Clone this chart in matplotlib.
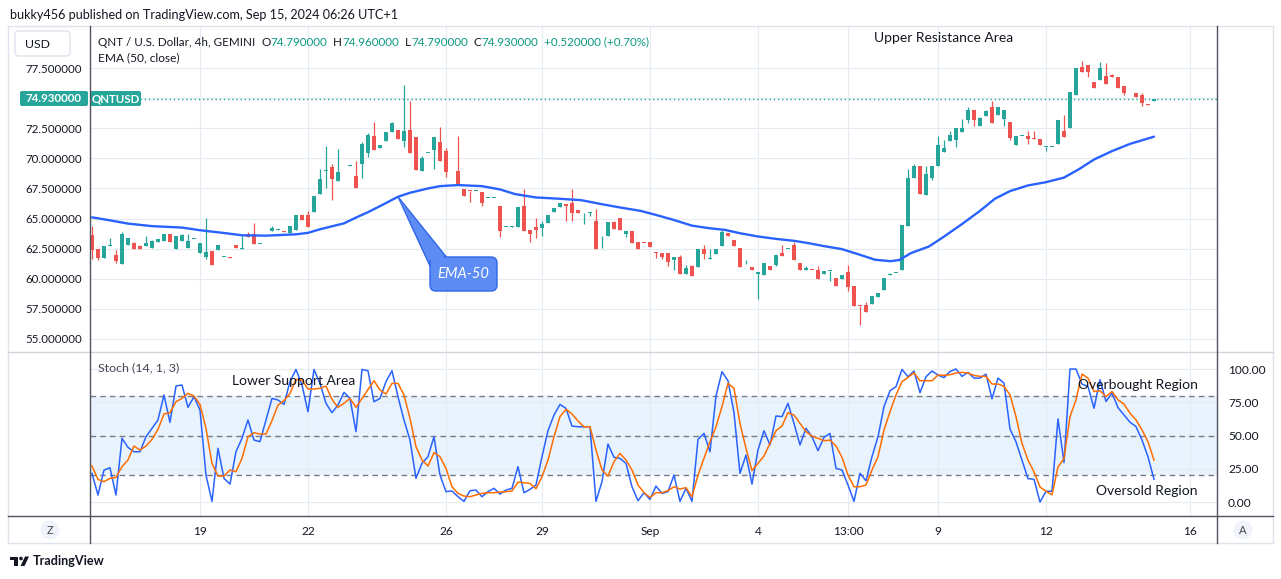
import matplotlib
matplotlib.use("Agg")
import matplotlib.pyplot as plt
from matplotlib.patches import FancyBboxPatch, Polygon, Rectangle, Circle
from matplotlib.lines import Line2D
from matplotlib.transforms import IdentityTransform
import numpy as np

# --- data (QNT/USD 4h candles, Aug 16 - Sep 15 2024) ---
opens = [63.61, 62.44, 61.72, 62.75, 61.97, 61.22, 62.80, 63.00, 62.72, 62.69,
         62.56, 63.03, 63.14, 63.69, 62.47, 63.11, 62.56, 63.30, 62.14, 61.81,
         62.28, 62.36, 61.78, 61.80, 62.78, 62.47, 63.72, 63.69, 62.90, 63.55,
         63.97, 64.08, 64.00, 63.78, 64.03, 65.33, 65.31, 65.56, 67.00, 68.94,
         69.25, 68.14, 69.75, 69.40, 68.53, 69.50, 70.47, 71.86, 70.89, 71.47,
         72.22, 72.36, 71.44, 72.36, 71.75, 68.97, 70.42, 70.69, 71.36, 70.58,
         69.00, 68.94, 67.44, 67.30, 67.28, 67.17, 66.70, 66.70, 66.03, 64.28,
         64.33, 64.31, 66.03, 64.03, 64.28, 64.22, 64.64, 65.58, 65.97, 66.19,
         66.28, 65.69, 65.42, 65.50, 64.78, 63.10, 63.56, 64.69, 65.03, 63.72,
         63.97, 63.06, 62.97, 63.06, 62.21, 62.13, 62.13, 61.52, 61.83, 60.37,
         61.03, 60.94, 62.49, 61.65, 62.07, 62.73, 63.81, 63.23, 62.57, 61.52,
         60.99, 60.37, 60.28, 61.08, 61.16, 62.16, 62.49, 62.82, 61.33, 60.69,
         60.73, 60.72, 60.37, 60.66, 60.09, 59.95, 60.56, 59.43, 57.75, 57.78,
         57.94, 58.52, 59.10, 60.33, 60.47, 60.71, 64.40, 68.40, 69.39, 66.95,
         68.40, 69.34, 70.49, 71.47, 71.53, 72.21, 73.17, 73.99, 72.71, 73.52,
         74.27, 73.58, 73.25, 73.01, 71.12, 71.85, 71.86, 71.60, 71.61, 70.92,
         70.93, 71.20, 72.27, 72.51, 75.28, 77.61, 77.75, 76.38, 76.54, 76.87,
         76.95, 76.76, 75.97, 75.24, 75.39, 75.23, 74.48, 74.79]
highs = [64.36, 62.45, 62.69, 63.36, 62.36, 63.86, 63.36, 63.08, 62.83, 63.53,
         63.25, 63.33, 63.75, 63.69, 63.56, 63.69, 63.69, 63.33, 63.00, 65.06,
         62.28, 62.78, 61.80, 61.80, 62.78, 63.56, 63.89, 64.67, 62.92, 63.58,
         64.36, 64.10, 64.00, 64.36, 65.33, 65.33, 65.61, 66.86, 69.08, 71.03,
         69.53, 70.78, 69.78, 69.42, 69.78, 71.33, 72.08, 73.03, 71.08, 72.19,
         73.03, 72.36, 76.11, 74.78, 71.75, 70.19, 70.45, 71.78, 72.61, 70.89,
         69.02, 71.86, 67.44, 67.30, 67.30, 67.17, 66.72, 66.72, 66.03, 64.30,
         64.36, 65.94, 67.47, 64.03, 65.03, 64.83, 65.33, 65.89, 66.25, 66.19,
         67.44, 65.69, 65.44, 65.52, 65.78, 63.56, 64.69, 64.83, 65.03, 63.94,
         63.97, 63.06, 62.97, 63.06, 62.21, 62.13, 62.13, 61.83, 62.00, 61.11,
         61.16, 62.49, 62.82, 62.49, 62.49, 64.03, 63.81, 63.23, 62.57, 61.54,
         60.99, 60.56, 61.33, 61.08, 61.99, 62.82, 62.50, 63.04, 61.33, 61.08,
         60.73, 61.03, 60.67, 60.68, 60.09, 60.34, 61.16, 59.43, 57.75, 58.05,
         58.60, 58.85, 60.09, 60.45, 60.49, 64.46, 69.14, 69.55, 69.39, 69.39,
         69.39, 71.86, 71.53, 72.27, 72.51, 73.25, 74.27, 73.99, 73.45, 74.02,
         74.79, 74.24, 73.99, 73.01, 71.86, 71.86, 72.27, 72.27, 71.61, 70.94,
         70.94, 73.17, 73.58, 75.47, 77.50, 78.10, 77.75, 76.38, 77.96, 77.94,
         77.03, 76.76, 75.97, 75.24, 75.39, 75.39, 74.48, 74.96]
lows = [61.67, 61.53, 61.72, 62.70, 61.30, 61.22, 62.80, 62.47, 62.47, 62.69,
        62.56, 63.03, 63.14, 63.06, 62.47, 63.11, 62.56, 63.30, 62.14, 61.64,
        61.17, 62.36, 61.78, 61.75, 62.56, 62.47, 63.47, 62.89, 62.90, 63.55,
        63.97, 64.08, 63.92, 63.78, 64.03, 64.86, 64.31, 65.56, 67.00, 67.50,
        66.58, 68.14, 69.75, 69.40, 67.56, 68.39, 70.14, 70.72, 70.89, 71.47,
        72.22, 71.64, 70.97, 70.47, 69.03, 68.97, 70.42, 69.14, 69.81, 68.47,
        69.00, 67.83, 66.89, 66.39, 67.28, 66.03, 66.70, 66.70, 63.47, 64.28,
        64.33, 64.31, 63.97, 63.03, 63.42, 63.58, 64.64, 65.58, 65.97, 64.81,
        64.83, 65.42, 64.58, 65.20, 62.47, 62.58, 63.56, 64.14, 64.06, 63.50,
        63.01, 62.51, 62.95, 62.60, 61.69, 61.66, 61.03, 60.75, 60.37, 60.37,
        60.20, 60.94, 61.66, 61.65, 62.07, 62.73, 63.59, 62.68, 60.94, 61.25,
        60.70, 58.35, 60.28, 60.70, 61.08, 61.85, 62.49, 61.58, 60.70, 60.69,
        60.72, 60.01, 60.37, 59.84, 59.43, 59.95, 58.96, 57.72, 56.20, 57.22,
        57.94, 58.52, 59.10, 60.33, 60.47, 60.71, 64.40, 68.40, 67.03, 66.95,
        68.18, 69.34, 70.49, 71.47, 70.98, 72.21, 72.95, 72.71, 72.71, 73.52,
        72.95, 73.58, 72.71, 71.53, 71.12, 71.85, 71.23, 71.58, 71.12, 70.65,
        70.93, 71.20, 71.77, 72.51, 75.28, 77.20, 76.73, 75.83, 76.54, 76.21,
        76.73, 75.88, 75.23, 75.23, 75.09, 74.35, 74.46, 74.79]
closes = [62.42, 61.72, 62.69, 62.80, 61.47, 63.69, 63.36, 62.47, 62.47, 62.94,
          63.11, 63.33, 63.75, 63.06, 63.56, 63.61, 63.11, 63.33, 63.00, 62.19,
          61.17, 62.78, 61.80, 61.75, 62.56, 62.50, 63.47, 62.89, 62.92, 63.58,
          64.19, 64.10, 63.92, 64.36, 65.33, 64.86, 64.31, 66.86, 68.28, 68.97,
          68.31, 68.86, 69.78, 69.42, 67.56, 71.19, 71.94, 70.72, 71.08, 72.19,
          72.92, 71.64, 72.28, 70.47, 69.03, 70.03, 70.45, 71.78, 69.81, 68.89,
          69.02, 67.83, 66.89, 67.28, 67.30, 66.33, 66.72, 66.72, 63.97, 64.30,
          64.36, 65.94, 63.97, 63.72, 64.06, 64.53, 65.33, 65.89, 66.25, 66.06,
          65.47, 65.42, 65.44, 65.52, 62.47, 63.14, 64.69, 64.14, 64.06, 63.94,
          63.01, 62.51, 62.95, 62.60, 62.18, 61.83, 61.36, 61.83, 60.37, 60.92,
          60.20, 62.49, 62.07, 61.66, 62.49, 63.89, 63.59, 62.68, 60.94, 61.54,
          60.70, 60.56, 61.33, 60.70, 61.99, 61.85, 62.50, 61.58, 60.70, 60.91,
          60.72, 60.01, 60.67, 60.68, 59.43, 60.34, 59.35, 57.72, 57.73, 57.22,
          58.60, 58.85, 60.09, 60.36, 60.49, 64.46, 68.40, 69.39, 67.03, 68.73,
          69.39, 71.12, 70.88, 71.94, 72.51, 72.51, 73.99, 73.17, 73.34, 73.90,
          72.95, 74.24, 73.99, 71.72, 71.86, 71.86, 71.58, 71.58, 71.12, 70.94,
          70.94, 73.17, 71.77, 75.47, 77.50, 77.20, 77.20, 75.83, 77.50, 76.21,
          76.73, 75.88, 75.42, 75.23, 75.09, 74.57, 74.46, 74.93]

# EMA(50) as traced on the chart (candle position, value)
ema_idx = [0, 3, 6, 10, 15, 18, 22, 25, 29, 34, 36, 38, 42, 44, 46, 48, 51, 53,
           56, 58, 61, 65, 68, 70.5, 74, 77, 81.5, 85, 88, 91.5, 94, 97, 100,
           103, 105.5, 108, 111, 114, 117, 119.5, 122, 125, 128, 130.5, 133,
           134.5, 136.5, 139.5, 142, 145, 148, 150.5, 153, 156, 159, 162, 164.5,
           167, 170, 173, 177]
ema_vals = [65.10, 64.85, 64.58, 64.37, 64.25, 64.03, 63.80, 63.61, 63.58, 63.69,
            63.81, 64.11, 64.60, 65.08, 65.53, 66.03, 66.81, 67.14, 67.50, 67.69,
            67.78, 67.69, 67.42, 67.03, 66.75, 66.67, 66.53, 66.19, 65.92, 65.63,
            65.30, 64.88, 64.41, 64.19, 64.06, 63.78, 63.51, 63.31, 63.15, 62.95,
            62.71, 62.46, 61.99, 61.58, 61.46, 61.55, 62.13, 62.68, 63.50, 64.54,
            65.64, 66.65, 67.28, 67.75, 68.02, 68.40, 69.10, 69.90, 70.60, 71.20,
            71.80]

# Stoch (14, 1, 3): %K and %D per candle
stoch_k = [21.6, 5.3, 24.0, 25.8, 5.3, 47.9, 41.1, 37.8, 37.8, 49.1,
           55.4, 61.7, 80.5, 59.9, 87.2, 88.0, 71.2, 79.2, 69.2, 20.3,
           0.5, 40.4, 17.8, 13.5, 37.8, 47.9, 61.7, 46.6, 45.4, 61.7,
           77.9, 76.7, 73.4, 90.5, 99.7, 88.0, 67.9, 99.7, 89.2, 74.2,
           67.2, 72.9, 82.5, 77.9, 52.9, 99.7, 98.7, 75.4, 77.9, 90.5,
           98.7, 79.2, 61.7, 46.6, 17.8, 29.1, 34.1, 49.1, 20.3, 7.8,
           8.3, 4.0, 0.5, 8.5, 9.0, 4.0, 7.8, 10.3, 6.0, 9.0,
           10.3, 26.6, 7.0, 9.5, 12.8, 34.1, 53.6, 65.4, 73.4, 70.4,
           57.1, 56.6, 56.6, 56.6, 0.5, 15.3, 43.6, 33.6, 32.8, 29.1,
           11.5, 1.0, 7.0, 2.0, 12.0, 6.5, 7.8, 20.3, 0.5, 10.3,
           0.5, 47.1, 51.6, 37.8, 79.7, 98.0, 91.2, 67.2, 21.6, 35.3,
           13.5, 39.1, 53.6, 42.9, 64.7, 64.2, 74.2, 59.1, 42.9, 55.4,
           49.1, 38.6, 48.6, 51.6, 25.3, 24.1, 12.8, 0.5, 21.6, 16.0,
           34.1, 49.1, 71.7, 83.7, 86.7, 99.7, 94.2, 98.5, 82.2, 94.2,
           98.5, 95.5, 93.5, 98.2, 100.0, 94.5, 97.5, 93.2, 93.2, 96.2,
           77.6, 93.2, 89.4, 54.9, 45.3, 31.5, 17.6, 17.1, 0.0, 8.1,
           8.1, 62.5, 29.7, 100.0, 100.0, 88.7, 86.9, 70.5, 91.9, 75.6,
           81.9, 71.0, 65.5, 60.0, 56.7, 46.6, 34.0, 17.1]
stoch_d = [27.1, 17.0, 15.3, 17.8, 18.5, 26.6, 31.6, 42.1, 39.1, 42.1,
           47.1, 54.6, 66.2, 67.2, 75.4, 77.9, 81.7, 79.7, 73.4, 55.4,
           29.1, 19.5, 19.5, 24.1, 22.8, 32.8, 49.1, 52.1, 51.1, 51.1,
           61.2, 72.9, 76.2, 81.7, 92.2, 91.7, 85.0, 85.0, 85.5, 87.2,
           77.2, 71.2, 74.2, 77.9, 71.2, 77.9, 84.7, 91.2, 84.2, 81.2,
           89.2, 89.2, 80.5, 62.9, 41.6, 31.6, 27.1, 37.1, 34.1, 25.3,
           11.5, 6.5, 4.5, 4.0, 5.3, 6.5, 7.0, 7.0, 7.5, 7.8,
           8.3, 15.0, 14.5, 14.0, 10.0, 19.0, 31.6, 49.1, 64.2, 69.7,
           66.2, 60.9, 56.6, 56.6, 39.1, 24.1, 19.5, 30.3, 36.6, 31.6,
           24.1, 12.8, 7.0, 3.5, 7.0, 7.0, 8.5, 11.5, 9.8, 10.8,
           4.0, 20.3, 32.8, 45.4, 56.6, 71.7, 89.2, 85.5, 59.1, 40.4,
           23.6, 29.1, 34.6, 44.1, 53.6, 57.1, 67.2, 65.4, 59.1, 52.9,
           49.6, 47.9, 46.1, 46.6, 42.1, 33.6, 20.3, 11.5, 11.5, 12.8,
           24.1, 34.1, 54.1, 67.9, 80.5, 90.5, 93.7, 97.2, 91.2, 91.2,
           91.2, 95.5, 95.3, 95.7, 97.0, 97.5, 97.0, 95.2, 94.5, 94.5,
           88.7, 88.7, 86.9, 80.6, 64.2, 44.1, 31.5, 22.7, 11.3, 8.1,
           5.5, 26.4, 32.7, 64.2, 76.8, 96.2, 93.2, 83.1, 83.6, 79.3,
           83.1, 76.8, 73.6, 66.8, 61.7, 54.2, 45.3, 31.5]

tick_idx = [18, 36, 59, 75, 93, 111, 126, 141, 159, 183]
tick_labels = ['19', '22', '26', '29', 'Sep', '4', '13:00', '9', '12', '16']
price_ticks = [55.0, 57.5, 60.0, 62.5, 65.0, 67.5, 70.0, 72.5, 75.0, 77.5]
stoch_ticks = [0, 25, 50, 75, 100]

# --- styling ---
plt.rcParams['font.family'] = ['Lato', 'DejaVu Sans']
UP, DOWN = '#26a69a', '#ef5350'
TXT = '#131722'
GRID = '#e4ebf2'
W, H = 1281, 579

fig = plt.figure(figsize=(W / 100, H / 100), dpi=100)
fig.patch.set_facecolor('white')
T = IdentityTransform()


def rect(x0, y0, x1, y1):
    return [x0 / W, 1 - y1 / H, (x1 - x0) / W, (y1 - y0) / H]


def hline(x0, x1, y, color, lw=1.0):
    fig.add_artist(Line2D([x0, x1], [H - y, H - y], color=color, lw=lw, transform=T))


def vline(x, y0, y1, color, lw=1.0):
    fig.add_artist(Line2D([x, x], [H - y0, H - y1], color=color, lw=lw, transform=T))


ax = fig.add_axes(rect(90, 26, 1217, 351))
axs = fig.add_axes(rect(90, 352, 1217, 516))

for a in (ax, axs):
    a.set_xlim(-0.33, 187.5)
    a.set_xticks(tick_idx)
    a.grid(True, color=GRID, lw=0.8)
    a.set_axisbelow(True)
    for s in a.spines.values():
        s.set_visible(False)

# candles
idx = np.arange(len(closes))
o, h, l, c = map(np.array, (opens, highs, lows, closes))
cols = np.where(c >= o, UP, DOWN)
ax.vlines(idx, l, h, colors=cols, lw=0.9, zorder=3)
ax.bar(idx, np.maximum(np.abs(c - o), 0.07), bottom=np.minimum(o, c), width=0.72,
       color=cols, lw=0, zorder=4)

# EMA 50
ax.plot(ema_idx, ema_vals, color='#2962ff', lw=1.7, zorder=5, solid_capstyle='round',
        solid_joinstyle='round')

# last price dotted line
ax.axhline(closes[-1], color=UP, lw=1, ls=(0, (1, 2)), zorder=2)

ax.set_ylim(54.0, 80.99)
ax.set_yticks(price_ticks)
ax.set_yticklabels([f'{v:.6f}' for v in price_ticks])
ax.tick_params(axis='y', length=0, pad=6, labelsize=8.3, labelcolor=TXT)
ax.tick_params(axis='x', length=0, labelbottom=False)

# stochastic pane
axs.axhspan(20, 80, color='#e8f3fd', zorder=0, lw=0)
for lvl in (80, 50, 20):
    axs.axhline(lvl, color='#787b86', lw=1, ls=(0, (4, 3)), zorder=1)
axs.plot(idx, stoch_k, color='#2962ff', lw=1.1, zorder=4)
axs.plot(idx, stoch_d, color='#ff6d00', lw=1.1, zorder=5)
axs.set_ylim(-10.5, 112.8)
axs.set_yticks(stoch_ticks)
axs.set_yticklabels([f'{v:.2f}' for v in stoch_ticks])
axs.yaxis.tick_right()
axs.tick_params(axis='y', length=0, pad=8, labelsize=8.6, labelcolor=TXT)
axs.set_xticklabels(tick_labels)
axs.tick_params(axis='x', length=0, pad=7, labelsize=8.6, labelcolor=TXT)

# frame lines
BORDER = '#e0e3eb'
hline(8, 1273, 26, BORDER)
hline(8, 1273, 543, BORDER)
vline(8, 26, 543, BORDER)
vline(1273, 26, 543, BORDER)
hline(8, 1273, 351.5, '#d1d4dc')
hline(8, 1273, 516, '#50535e')
vline(90, 26, 543, '#50535e')
vline(1217, 26, 543, '#50535e')

# header texts
fig.text(10 / W, 1 - 15 / H, 'bukky456 published on TradingView.com, Sep 15, 2024 06:26 UTC+1',
         fontsize=9.1, color=TXT, va='center')
renderer = fig.canvas.get_renderer()


def runs(x, y, parts, size, gap=6):
    for s, colr, sp in parts:
        t = fig.text(x / W, 1 - y / H, s, color=colr, fontsize=size, va='center')
        x += t.get_window_extent(renderer).width + (gap if sp else 0)


TEAL = '#089981'
runs(98, 42, [('QNT / U.S. Dollar, 4h, GEMINI', TXT, True), ('O', TXT, False),
              ('74.790000', TEAL, True), ('H', TXT, False), ('74.960000', TEAL, True),
              ('L', TXT, False), ('74.790000', TEAL, True), ('C', TXT, False),
              ('74.930000', TEAL, True), ('+0.520000 (+0.70%)', TEAL, False)], 8.4)
fig.text(98 / W, 1 - 58 / H, 'EMA (50, close)', fontsize=8.6, color=TXT, va='center')
fig.text(98 / W, 1 - 368 / H, 'Stoch (14, 1, 3)', fontsize=8.9, color='#434651', va='center')

# USD box
fig.add_artist(FancyBboxPatch((15, H - 56), 55, 25, boxstyle='round,pad=0,rounding_size=4',
                              fc='white', ec=BORDER, lw=1, transform=T))
fig.text(25 / W, 1 - 44 / H, 'USD', fontsize=8.8, color=TXT, va='center')

# last price labels
fig.add_artist(FancyBboxPatch((20, H - 106), 68, 15, boxstyle='round,pad=0,rounding_size=2',
                              fc=UP, ec='none', transform=T))
fig.add_artist(FancyBboxPatch((90, H - 106), 51, 15, boxstyle='round,pad=0,rounding_size=2',
                              fc=UP, ec='none', transform=T))
fig.text(54 / W, 1 - 98.5 / H, f'{closes[-1]:.6f}', fontsize=8.3, color='white',
         va='center', ha='center', fontweight='bold')
fig.text(115.5 / W, 1 - 98.5 / H, 'QNTUSD', fontsize=8.3, color='white',
         va='center', ha='center', fontweight='bold')

# annotations
fig.text(874 / W, 1 - 38 / H, 'Upper Resistance Area', fontsize=10, color=TXT, va='center')
fig.text(232 / W, 1 - 381 / H, 'Lower Support Area', fontsize=10, color=TXT, va='center')
fig.text(1078 / W, 1 - 385 / H, 'Overbought Region', fontsize=10, color=TXT, va='center')
fig.text(1096 / W, 1 - 491 / H, 'Oversold Region', fontsize=10, color=TXT, va='center')

# EMA-50 callout pointing at the EMA line
k = ema_idx.index(51)
tip = ax.transData.transform((ema_idx[k], ema_vals[k]))
FILL, EDGE = '#5d8cf5', '#2f66ea'
ptr = [tuple(tip), (430, H - 266), (448, H - 259)]
fig.add_artist(Polygon(ptr, closed=True, fc=FILL, ec=EDGE, lw=1, transform=T, zorder=6))
fig.add_artist(FancyBboxPatch((430, H - 291), 67, 34, boxstyle='round,pad=0,rounding_size=6',
                              fc=FILL, ec=EDGE, lw=1, transform=T, zorder=7))
cover = [(tip[0] + 1.5, tip[1] - 3), (431.5, H - 262), (446, H - 259.5)]
fig.add_artist(Polygon(cover, closed=True, fc=FILL, ec='none', transform=T, zorder=8))
fig.text(463.5 / W, 1 - 274 / H, 'EMA-50', fontsize=10.5, color='white', style='italic',
         va='center', ha='center', zorder=9)

# scale buttons
for cx, letter in ((50, 'Z'), (1243, 'A')):
    fig.add_artist(Circle((cx, H - 530), 9.5, fc='#f0f3fa', ec='none', transform=T))
    fig.text(cx / W, 1 - 530.5 / H, letter, fontsize=8, color='#434651', ha='center', va='center')

# TradingView branding
fig.add_artist(Rectangle((10, H - 560), 8, 3.5, fc=TXT, ec='none', transform=T))
fig.add_artist(Rectangle((13.5, H - 566), 4.5, 9.5, fc=TXT, ec='none', transform=T))
fig.add_artist(Circle((21, H - 558.5), 1.8, fc=TXT, ec='none', transform=T))
fig.add_artist(Polygon([(20.5, H - 566), (25, H - 556.5), (29, H - 556.5), (24.5, H - 566)],
                       closed=True, fc=TXT, ec='none', transform=T))
fig.text(33 / W, 1 - 561 / H, 'TradingView', fontsize=9.1, color=TXT, va='center',
         fontweight='bold')

fig.savefig('out.png', dpi=100, facecolor='white')
